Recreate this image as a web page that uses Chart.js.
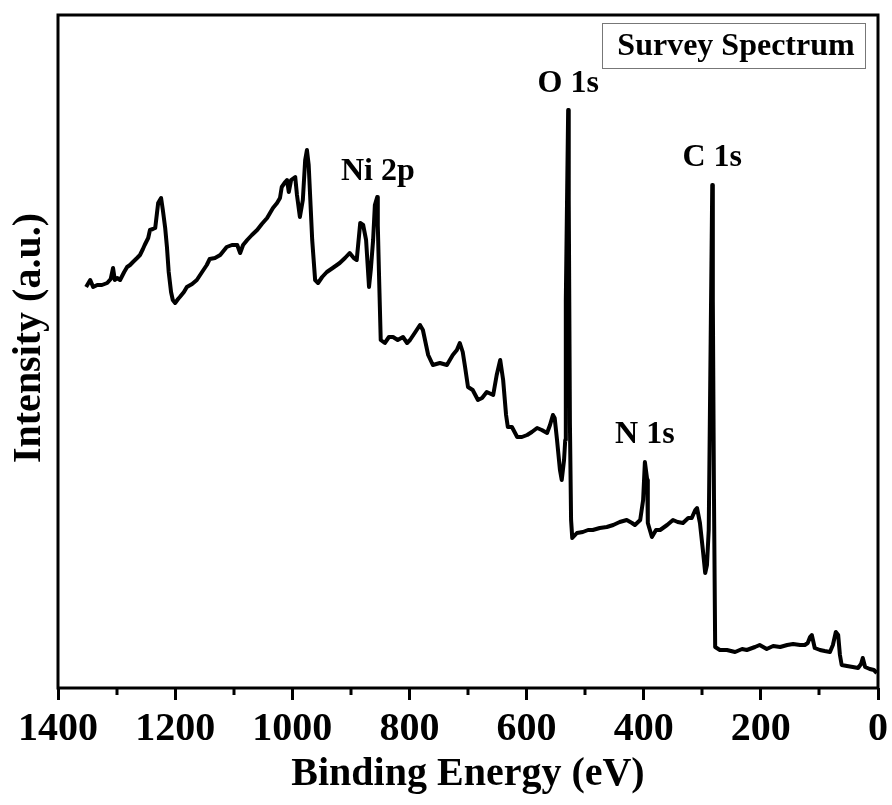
<!DOCTYPE html>
<html>
<head>
<meta charset="utf-8">
<script src="https://cdn.jsdelivr.net/npm/chart.js@4.4.1/dist/chart.umd.min.js"></script>
<style>
  html, body { margin: 0; padding: 0; background: #fff; }
</style>
</head>
<body>
<canvas id="myChart" width="892" height="805"></canvas>
<script>
// XPS survey spectrum (intensity in arbitrary units)
var bindingEnergy = [
  1352,1345,1340,1333,1325,1316,1310,1306,1303,1299,
  1294,1287,1282,1277,1272,1265,1260,1255,1252,1246,
  1243,1238,1234,1229,1224,1221,1217,1214,1211,1207,
  1204,1200,1195,1192,1185,1180,1171,1163,1154,1146,
  1141,1132,1123,1112,1103,1094,1089,1084,1077,1069,
  1060,1052,1043,1038,1033,1026,1021,1018,1012,1009,
  1006,1002,995,992,987,982,978,975,972,966,
  961,956,949,941,931,919,910,902,895,890,
  884,879,874,869,866,862,859,855,854,852,
  849,842,835,828,820,811,804,799,791,782,
  777,768,760,748,736,726,719,714,709,705,
  700,692,683,676,668,657,651,645,640,635,
  632,625,616,608,599,591,582,574,565,560,
  555,552,548,543,540,536,534,533,529,528,
  526,524,522,514,504,495,487,475,463,452,
  441,429,420,415,406,401,398,394,393,386,
  379,372,360,350,342,333,324,318,312,309,
  304,299,295,292,289,285,283,282,280,278,
  270,258,244,232,224,210,202,190,179,167,
  155,145,133,125,120,116,113,108,99,91,
  82,77,72,68,65,62,53,43,34,29,
  26,22,14,7,2
];
var intensity = [
  401,408,401,403,403,405,409,420,408,410,
  408,416,421,423,426,430,433,439,443,450,
  458,459,460,485,490,478,460,441,416,396,
  388,385,389,391,396,401,404,408,416,423,
  429,430,433,441,443,443,435,443,448,453,
  458,464,470,475,480,485,490,501,506,508,
  496,508,511,493,471,488,528,538,523,448,
  408,405,411,416,420,425,430,435,430,428,
  465,463,448,401,418,448,483,491,463,415,
  348,345,351,351,348,351,345,348,355,363,
  358,333,323,325,323,333,338,345,336,321,
  301,298,288,290,296,293,313,328,308,273,
  261,261,251,251,253,256,260,258,255,263,
  273,270,248,218,208,228,248,388,578,488,
  265,168,150,155,156,158,158,160,161,163,
  166,168,165,163,168,188,226,208,165,151,
  158,158,163,168,166,165,170,170,178,180,
  165,138,115,123,158,388,503,388,188,41,
  38,38,36,39,38,41,43,39,42,41,
  43,44,43,43,45,51,53,40,38,37,
  36,43,56,53,33,23,22,21,20,24,
  30,21,19,18,15
];
var xTicks = [0, 200, 400, 600, 800, 1000, 1200, 1400];
var xMinorTicks = [100, 300, 500, 700, 900, 1100, 1300];

// peak labels and where they sit (energy, intensity)
var peakNames = ['Ni 2p', 'O 1s', 'N 1s', 'C 1s'];
var peakLabelEnergy = [854, 529, 398, 283];
var peakLabelIntensity = [516, 604, 253, 530];

var serif = '"Liberation Serif", "Times New Roman", serif';

var points = bindingEnergy.map(function (e, i) { return {x: e, y: intensity[i]}; });

var decorations = {
  id: 'decorations',
  afterDraw: function (chart) {
    var ctx = chart.ctx;
    var a = chart.chartArea;
    var x = chart.scales.x, y = chart.scales.y;
    ctx.save();
    // frame
    ctx.strokeStyle = '#000';
    ctx.lineWidth = 3;
    ctx.strokeRect(a.left, a.top, a.right - a.left, a.bottom - a.top);
    // minor ticks
    xMinorTicks.forEach(function (v) {
      var px = Math.round(x.getPixelForValue(v));
      ctx.beginPath();
      ctx.moveTo(px, a.bottom);
      ctx.lineTo(px, a.bottom + 7);
      ctx.stroke();
    });
    // peak labels
    ctx.fillStyle = '#000';
    ctx.font = 'bold 32px ' + serif;
    ctx.textAlign = 'center';
    ctx.textBaseline = 'middle';
    peakNames.forEach(function (n, i) {
      ctx.fillText(n, x.getPixelForValue(peakLabelEnergy[i]), y.getPixelForValue(peakLabelIntensity[i]));
    });
    // "legend" box
    ctx.lineWidth = 1;
    ctx.strokeStyle = '#777';
    ctx.strokeRect(602.5, 23.5, 263, 45);
    ctx.fillText('Survey Spectrum', 736, 47);
    // y title
    ctx.font = 'bold 40px ' + serif;
    ctx.translate(30, 338);
    ctx.rotate(-Math.PI / 2);
    ctx.fillText('Intensity (a.u.)', 0, 0);
    ctx.restore();
  }
};

var ctx = document.getElementById('myChart');
var myChart = new Chart(ctx, {
  type: 'line',
  data: {
    datasets: [{
      label: 'Survey Spectrum',
      data: points,
      borderColor: '#000',
      borderWidth: 4,
      borderJoinStyle: 'round',
      pointRadius: 0,
      tension: 0,
      fill: false
    }]
  },
  options: {
    responsive: false,
    animation: false,
    layout: {padding: {left: 58, top: 15, right: 14, bottom: 0}},
    plugins: {legend: {display: false}, tooltip: {enabled: false}},
    scales: {
      x: {
        type: 'linear',
        reverse: true,
        min: 0,
        max: 1400,
        afterBuildTicks: function (s) { s.ticks = xTicks.map(function (v) { return {value: v}; }); },
        ticks: {
          color: '#000',
          font: {family: serif, size: 40, weight: 'bold'},
          padding: 6,
          maxRotation: 0,
          autoSkip: false,
          callback: function (v) { return String(v); }
        },
        grid: {drawOnChartArea: false, tickLength: 12, tickWidth: 3, tickColor: '#000'},
        border: {display: false},
        title: {
          display: true,
          text: 'Binding Energy (eV)',
          color: '#000',
          font: {family: serif, size: 40, weight: 'bold'},
          padding: {top: 0, bottom: 6}
        },
        afterFit: function (s) { s.height = 117; }
      },
      y: {display: false, min: 0, max: 673}
    }
  },
  plugins: [decorations]
});
</script>
</body>
</html>
